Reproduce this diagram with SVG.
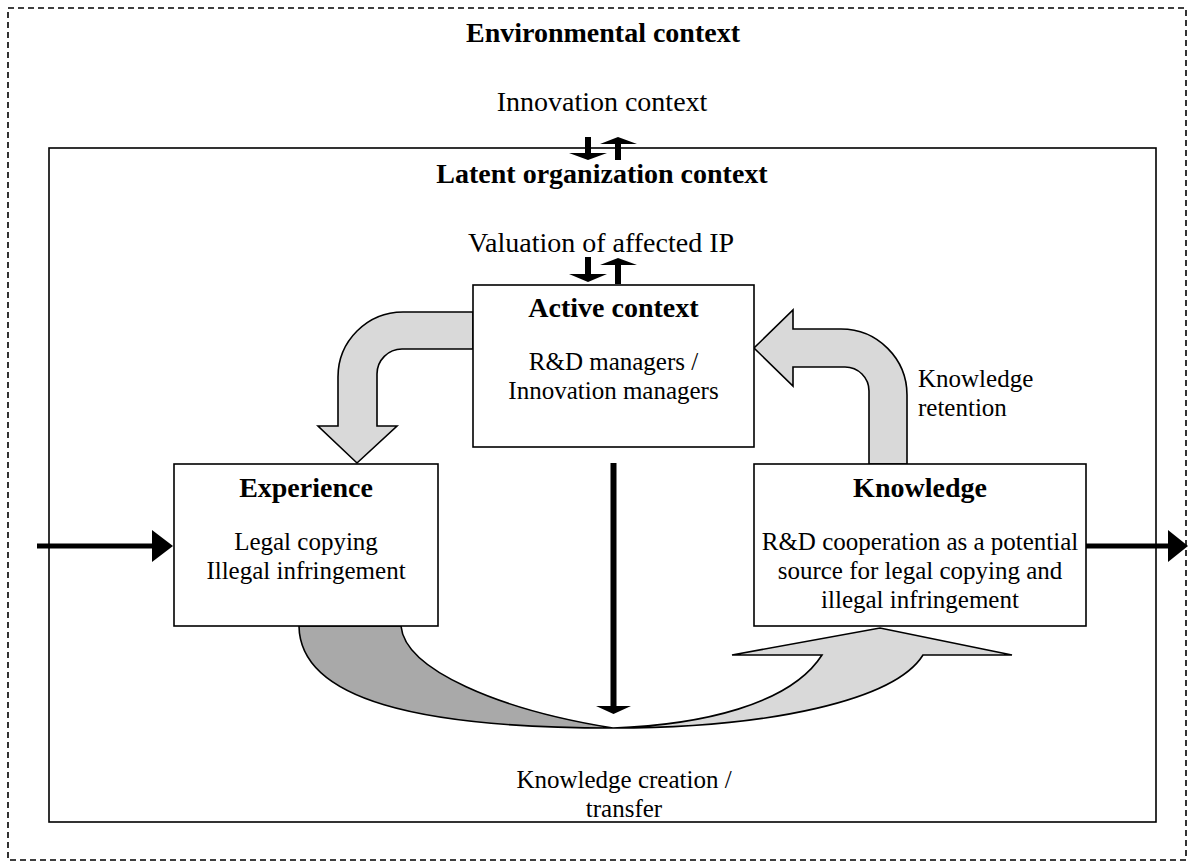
<svg xmlns="http://www.w3.org/2000/svg" width="1192" height="863" viewBox="0 0 1192 863">
<style>
.box{fill:#fff;stroke:#000;stroke-width:1.6}
.frame{fill:none;stroke:#000;stroke-width:1.6}
.dash{fill:none;stroke:#000;stroke-width:1.6;stroke-dasharray:6 4}
.blk{fill:#000;stroke:none}
.lt{fill:#d9d9d9;stroke:#000;stroke-width:1.6;stroke-linejoin:miter}
.dk{fill:#a9a9a9;stroke:#000;stroke-width:1.6}
text{font-family:"Liberation Serif","Times New Roman",serif;fill:#000}
.h{font-size:28px;font-weight:bold;text-anchor:middle}
.c{font-size:28px;text-anchor:middle}
.b{font-size:25px;text-anchor:middle}
.l{font-size:25px}
</style>
<g id="environmental-context">
<rect class="dash" x="8" y="8" width="1178" height="852"/>
<text class="h" x="603" y="42">Environmental context</text>
<text class="c" x="602" y="111">Innovation context</text>
</g>
<g id="latent-organization-context">
<rect class="frame" x="49" y="148" width="1107" height="674"/>
<text class="h" x="602" y="183">Latent organization context</text>
<text class="c" x="601" y="252">Valuation of affected IP</text>
</g>
<g id="connectors">
<path class="blk" d="M585,137 H591 V153 H607 L588,160 L569,153 H585 Z"/>
<path class="blk" d="M615,160 H621 V144 H637 L618,137 L600,144 H615 Z"/>
<path class="blk" d="M585,257 H591 V274 H607 L588,282 L569,274 H585 Z"/>
<path class="blk" d="M615,284 H621 V265 H637 L618,258 L600,265 H615 Z"/>
<path class="lt" d="M473,312 H403 A65,65 0 0 0 338,377 V426 H318 L357,463 L397,426 H377 V374 A25,25 0 0 1 402,349 H473 Z"/>
<path class="lt" d="M907,464 V395 A66,66 0 0 0 841,329 H793 V310 L754,348 L793,386 V367 H845 A24,24 0 0 1 869,391 V464 Z"/>
<path class="dk" d="M299,626 C300,700 420,728 613,728 C500,710 405,670 401,626 Z"/>
<path class="lt" d="M613,728 C700,725 790,705 822,655 H732 L880,628 L1012,655 H923 C895,700 770,728 613,728 Z"/>
<path class="blk" d="M610.5,463 H616.5 V706 H631 L613.5,714 L596,706 H610.5 Z"/>
<path class="blk" d="M37,543.5 H152 V530 L173,546 L152,562 V548.5 H37 Z"/>
<path class="blk" d="M1086,543.5 H1168 V530 L1188,546 L1168,562 V548.5 H1086 Z"/>
<text class="l" x="918" y="387">Knowledge</text>
<text class="l" x="918" y="416">retention</text>
<text class="b" x="624" y="788">Knowledge creation /</text>
<text class="b" x="624" y="817">transfer</text>
</g>
<g id="active-context">
<rect class="box" x="473" y="285" width="281" height="162"/>
<text class="h" x="613.5" y="317">Active context</text>
<text class="b" x="613.5" y="370">R&amp;D managers /</text>
<text class="b" x="613.5" y="399">Innovation managers</text>
</g>
<g id="experience">
<rect class="box" x="174" y="464" width="264" height="162"/>
<text class="h" x="306" y="497">Experience</text>
<text class="b" x="306" y="550">Legal copying</text>
<text class="b" x="306" y="579">Illegal infringement</text>
</g>
<g id="knowledge">
<rect class="box" x="754" y="464" width="332" height="162"/>
<text class="h" x="920" y="497">Knowledge</text>
<text class="b" x="920" y="550">R&amp;D cooperation as a potential</text>
<text class="b" x="920" y="579">source for legal copying and</text>
<text class="b" x="920" y="608">illegal infringement</text>
</g>
</svg>
